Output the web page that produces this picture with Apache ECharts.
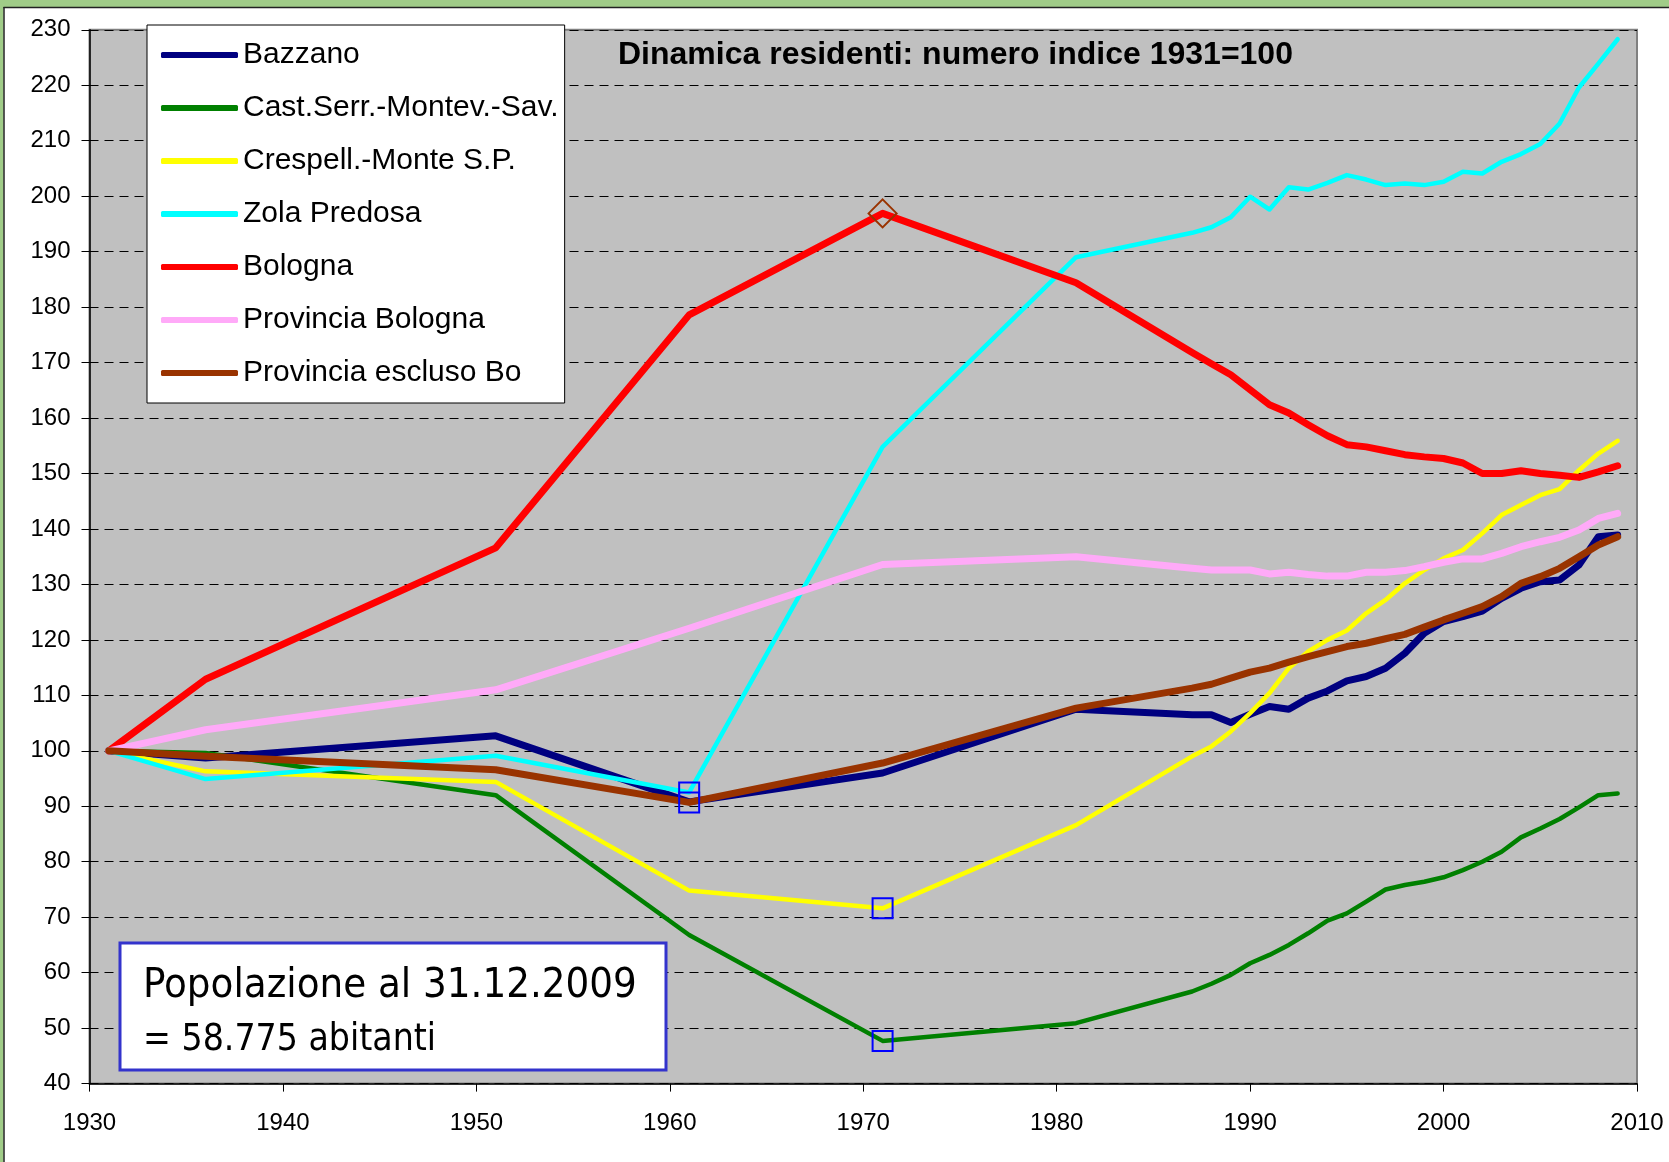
<!DOCTYPE html>
<html>
<head>
<meta charset="utf-8">
<title>Dinamica residenti</title>
<script src="https://cdn.jsdelivr.net/npm/echarts@6/dist/echarts.min.js"></script>
<style>
  html, body { margin: 0; padding: 0; background: #fff; }
  #chart { width: 1669px; height: 1162px; }
</style>
</head>
<body>
<div id="chart"></div>
<script>
// census years, then yearly from 1987
const years = [1931, 1936, 1951, 1961, 1971, 1981, 1987, 1988, 1989, 1990, 1991, 1992, 1993, 1994,
  1995, 1996, 1997, 1998, 1999, 2000, 2001, 2002, 2003, 2004, 2005, 2006, 2007, 2008, 2009];

const bazzano = [100, 98.7, 102.7, 90.8, 96.0, 107.5, 106.5, 106.5, 105.1, 106.6, 108.0, 107.5, 109.5, 110.8,
  112.6, 113.4, 114.9, 117.6, 121.2, 123.3, 124.2, 125.2, 127.5, 129.3, 130.5, 130.8, 133.5, 138.6, 138.9];
const castSerr = [100, 99.6, 92.0, 66.8, 47.7, 50.9, 56.6, 58.0, 59.6, 61.7, 63.2, 65.0, 67.1, 69.4,
  70.7, 72.8, 75.0, 75.8, 76.4, 77.2, 78.5, 80.0, 81.8, 84.4, 86.0, 87.7, 89.8, 92.0, 92.3];
const crespellano = [100, 96.3, 94.4, 74.8, 71.6, 86.6, 99.0, 100.8, 103.5, 106.8, 110.4, 114.9, 117.9, 120.0,
  121.7, 124.8, 127.2, 130.2, 132.6, 134.7, 136.2, 139.2, 142.5, 144.3, 146.1, 147.2, 150.6, 153.6, 155.9];
const zola = [100, 94.9, 99.1, 92.5, 154.8, 189.0, 193.4, 194.4, 196.2, 199.9, 197.6, 201.6, 201.2, 202.4,
  203.8, 203.0, 202.0, 202.3, 202.0, 202.6, 204.4, 204.1, 206.2, 207.6, 209.4, 213.1, 219.6, 223.9, 228.3];
const bologna = [100, 112.9, 136.6, 178.6, 196.9, 184.4, 171.8, 169.8, 167.8, 165.1, 162.4, 160.9, 158.8, 156.8,
  155.2, 154.8, 154.1, 153.4, 153.0, 152.7, 151.9, 150.0, 150.0, 150.5, 150.0, 149.7, 149.3, 150.3, 151.4];
const provBologna = [100, 103.8, 111.0, 122.1, 133.6, 135.0, 132.9, 132.6, 132.6, 132.6, 131.9, 132.2, 131.8, 131.5,
  131.5, 132.2, 132.2, 132.5, 133.2, 134.0, 134.6, 134.6, 135.6, 136.8, 137.7, 138.5, 139.8, 141.9, 142.8];
const provEsclusoBo = [100, 99.0, 96.6, 90.7, 97.8, 107.7, 111.3, 112.0, 113.1, 114.2, 114.9, 116.0, 117.0, 117.9,
  118.8, 119.4, 120.2, 121.0, 122.3, 123.6, 124.8, 126.0, 127.8, 130.2, 131.4, 132.9, 135.0, 137.1, 138.6];

const seriesNames = ['Bazzano', 'Cast.Serr.-Montev.-Sav.', 'Crespell.-Monte S.P.', 'Zola Predosa',
  'Bologna', 'Provincia Bologna', 'Provincia escluso Bo'];
const seriesValues = [bazzano, castSerr, crespellano, zola, bologna, provBologna, provEsclusoBo];
const seriesColors = ['#000080', '#008000', '#ffff00', '#00ffff', '#ff0000', '#ffaaf8', '#993300'];
const seriesWidths = [7, 4.5, 4.5, 4.5, 7, 7, 7];

// highlighted points: [series index, year, symbol]
const markedPoints = [
  [4, 1971, 'diamond'],
  [3, 1961, 'rect'],
  [6, 1961, 'rect'],
  [2, 1971, 'rect'],
  [1, 1971, 'rect']
];

const yTicks = { min: 40, max: 230, step: 10 };
const xTicks = { min: 1930, max: 2010, step: 10 };

const titleText = 'Dinamica residenti: numero indice 1931=100';
const noteLines = ['Popolazione al 31.12.2009', '= 58.775 abitanti'];

const FONT = '"Liberation Sans", Arial, sans-serif';
const NOTE_FONT = '"DejaVu Sans Condensed", "Noto Sans", sans-serif';

function buildData(si) {
  return years.map((y, i) => {
    const mark = markedPoints.find((m) => m[0] === si && m[1] === y);
    if (!mark) return [y, seriesValues[si][i]];
    const diamond = mark[2] === 'diamond';
    return {
      value: [y, seriesValues[si][i]],
      symbol: mark[2],
      symbolSize: diamond ? 28 : 20,
      itemStyle: {
        color: 'rgba(0,0,0,0)',
        borderColor: diamond ? '#993300' : '#0000ff',
        borderWidth: 2
      }
    };
  });
}

const chart = echarts.init(document.getElementById('chart'), null, { renderer: 'canvas' });

const option = {
  animation: false,
  backgroundColor: '#ffffff',
  title: {
    text: titleText,
    left: 618,
    top: 39,
    padding: 0,
    textStyle: { fontFamily: FONT, fontSize: 32, fontWeight: 'bold', color: '#000' }
  },
  grid: {
    left: 89.5,
    right: 32,
    top: 29.8,
    bottom: 78.4,
    show: true,
    backgroundColor: '#c0c0c0',
    borderColor: '#808080',
    borderWidth: 2
  },
  legend: {
    orient: 'vertical',
    left: 147,
    top: 25,
    backgroundColor: '#ffffff',
    borderColor: '#000000',
    borderWidth: 1,
    borderRadius: 0,
    padding: [15, 6, 15, 14],
    itemWidth: 77,
    itemHeight: 6,
    itemGap: 23,
    selectedMode: false,
    data: seriesNames.map((n) => ({ name: n, icon: 'roundRect' })),
    textStyle: { fontFamily: FONT, fontSize: 30, color: '#000', lineHeight: 30 }
  },
  xAxis: {
    type: 'value',
    min: xTicks.min,
    max: xTicks.max,
    interval: xTicks.step,
    axisLine: { show: true, onZero: false, lineStyle: { color: '#000', width: 1.5 } },
    axisTick: { show: true, length: 8, lineStyle: { color: '#000' } },
    axisLabel: {
      margin: 28,
      fontFamily: FONT,
      fontSize: 24,
      color: '#000',
      formatter: (v) => String(v)
    },
    splitLine: { show: false }
  },
  yAxis: {
    type: 'value',
    min: yTicks.min,
    max: yTicks.max,
    interval: yTicks.step,
    axisLine: { show: true, lineStyle: { color: '#000', width: 1.5 } },
    axisTick: { show: true, length: 8, lineStyle: { color: '#000' } },
    axisLabel: { margin: 19, fontFamily: FONT, fontSize: 24, color: '#000' },
    splitLine: { show: true, lineStyle: { color: '#000', type: [9, 6], width: 1 } }
  },
  series: seriesNames.map((name, si) => ({
    name: name,
    type: 'line',
    data: buildData(si),
    symbol: 'none',
    showSymbol: true,
    color: seriesColors[si],
    lineStyle: { color: seriesColors[si], width: seriesWidths[si], cap: 'round', join: 'round' },
    emphasis: { disabled: true },
    silent: true,
    z: 2 + si
  })),
  graphic: [
    // green frame strips (top and left)
    { type: 'rect', shape: { x: 0, y: 0, width: 1669, height: 7 }, style: { fill: '#a0cc88' }, z: 100 },
    { type: 'line', shape: { x1: 0, y1: 7.5, x2: 1669, y2: 7.5 }, style: { stroke: '#222', lineWidth: 1.5 }, z: 100 },
    { type: 'rect', shape: { x: 0, y: 0, width: 3.5, height: 1162 }, style: { fill: '#a0cc88' }, z: 100 },
    { type: 'line', shape: { x1: 4, y1: 7, x2: 4, y2: 1162 }, style: { stroke: '#222', lineWidth: 1.5 }, z: 100 },
    // note box
    {
      type: 'rect',
      shape: { x: 120, y: 943, width: 546, height: 127 },
      style: { fill: '#ffffff', stroke: '#3333cc', lineWidth: 3 },
      z: 60
    },
    {
      type: 'text',
      x: 143,
      y: 986,
      style: { text: noteLines[0], font: '41.5px ' + NOTE_FONT, fill: '#000', verticalAlign: 'middle' },
      z: 61
    },
    {
      type: 'text',
      x: 143,
      y: 1040,
      style: { text: noteLines[1], font: '37px ' + NOTE_FONT, fill: '#000', verticalAlign: 'middle' },
      z: 61
    }
  ]
};

chart.setOption(option);
</script>
</body>
</html>
